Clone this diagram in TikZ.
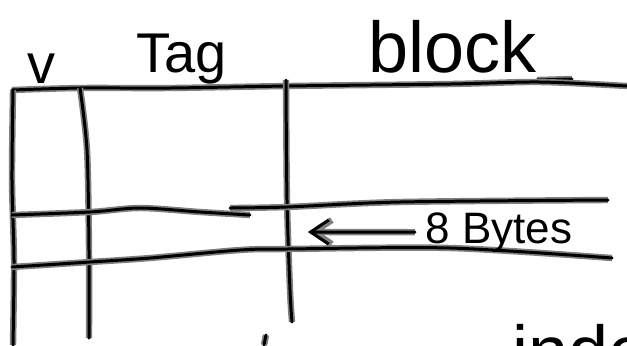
\documentclass[tikz,border=0pt]{standalone}
\usepackage{fontspec}
\setmainfont{Liberation Sans}
\usetikzlibrary{arrows.meta, positioning}
\definecolor{penhalo}{RGB}{128, 128, 128}

\tikzset{
  pen/.style={line width=1.5pt, line cap=round, line join=round,
    preaction={draw=penhalo, line width=3.2pt}},
  hand/.style={inner sep=0pt, anchor=base west}
}

\begin{document}
\begin{tikzpicture}[x=0.5pt, y=-0.5pt]
  \useasboundingbox (0,0) rectangle (627,345);
  \clip (0,0) rectangle (627,345);

  % column heads
  \node[hand, font=\fontsize{28}{30}\selectfont] (valid) at (27,83) {v};
  \node[hand, font=\fontsize{28}{30}\selectfont] (tag) at (136,72) {Tag};
  \node[hand, font=\fontsize{36}{38}\selectfont] (block) at (368,72) {block};
  \draw[pen] (537,80) -- (572,79);

  % frame and columns
  \draw[pen] plot[smooth] coordinates {(12,90) (80,88) (170,88) (287,86) (450,84) (540,82) (627,86)};
  \draw[pen] plot[smooth] coordinates {(13,90) (12,180) (14,260) (13,345)};
  \draw[pen] plot[smooth] coordinates {(80,88) (87,150) (89,250) (89,338)};
  \draw[pen] plot[smooth] coordinates {(286,80) (287,200) (290,290) (292,322)};

  % one line of the cache
  \draw[pen] plot[smooth] coordinates {(12,215) (90,212) (140,208) (200,212) (250,215)};
  \draw[pen] plot[smooth] coordinates {(230,208) (287,207) (400,202) (608,200)};
  \draw[pen] plot[smooth] coordinates {(12,267) (90,262) (150,258) (240,250) (287,249) (450,248) (612,258)};

  \node[hand, font=\fontsize{22}{24}\selectfont, inner xsep=5pt, anchor=base west] (bytes) at (415,243) {8 Bytes};
  \coordinate (arrowtip) at (308,232);
  \draw[pen, -{Straight Barb[length=9pt, width=12pt]}] (bytes.west) -- (arrowtip);

  % below the table
  \draw[pen] (266,335) -- (264,345);
  \node[hand, font=\fontsize{36}{38}\selectfont] (index) at (512,376) {index};
\end{tikzpicture}
\end{document}
